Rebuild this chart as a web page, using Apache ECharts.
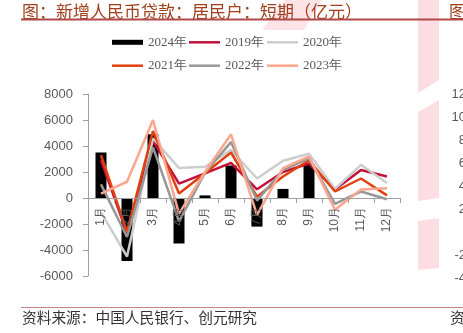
<!DOCTYPE html>
<html>
<head>
<meta charset="utf-8">
<style>
  html, body { margin: 0; padding: 0; background: #fff; }
  #chart { width: 463px; height: 333px; }
</style>
<script src="https://cdn.jsdelivr.net/npm/echarts@6/dist/echarts.min.js"></script>
</head>
<body>
<div id="chart"></div>
<script>
// ---- data ----
const months = ['1月','2月','3月','4月','5月','6月','7月','8月','9月','10月','11月','12月'];
const s2024 = [3500, -4850, 4900, -3500, 200, 2500, -2200, 700, 2600, null, null, null];
const s2019 = [2900, -2700, 4400, 1100, 1900, 2700, 670, 2000, 2650, 650, 2150, 1650];
const s2020 = [-1100, -4500, 4600, 2300, 2400, 3700, 1500, 2870, 3400, 700, 2550, 1150];
const s2021 = [3300, -2600, 5150, 350, 1900, 3500, 100, 1650, 2900, 500, 1500, 200];
const s2022 = [1050, -3000, 3900, -1800, 1950, 4300, -200, 2150, 3050, -450, 500, -100];
const s2023 = [330, 1250, 6000, -1200, 2000, 4900, -1300, 2300, 3200, -900, 650, 750];
const yTicks = { min: -6000, max: 8000, step: 2000 };
const neighbourTicks = [12, 10, 8, 6, 4, 2, -2, -4];

const titleText = '图：新增人民币贷款：居民户：短期（亿元）';
const sourceText = '资料来源：中国人民银行、创元研究';

// ---- styles ----
const CJK = '"Noto Sans CJK SC", sans-serif';
const SANS = '"Liberation Sans", Arial, sans-serif';
const SERIF = '"Liberation Serif", "Times New Roman", serif';
const labelColor = '#595959';
const axisColor = '#a0a0a0';

const GRID = { left: 88, right: 63, top: 94, bottom: 57 };
const plotH = 333 - GRID.top - GRID.bottom;
// distance from the bottom of the plot up to the zero line
const zeroOffset = plotH * (0 - yTicks.min) / (yTicks.max - yTicks.min);

const lineDefs = [
  { name: '2019年', data: s2019, color: '#C4103A' },
  { name: '2020年', data: s2020, color: '#CDCDCD' },
  { name: '2021年', data: s2021, color: '#E2410F' },
  { name: '2022年', data: s2022, color: '#979797' },
  { name: '2023年', data: s2023, color: '#FBA68E' }
];
const colorOf = { '2024年': '#000000' };
lineDefs.forEach(d => colorOf[d.name] = d.color);

const legendNames = ['2024年', '2019年', '2020年', '2021年', '2022年', '2023年'];
const legendCols = [112, 189, 267];
const legendRows = [42.3, 65.7];

const legends = legendNames.map((n, i) => {
  const isBar = n === '2024年';
  return {
    data: [{ name: n, icon: 'rect', itemStyle: { color: colorOf[n] } }],
    left: legendCols[i % 3],
    top: legendRows[Math.floor(i / 3)] - 7,
    orient: 'horizontal',
    padding: 0,
    itemGap: 0,
    itemWidth: 31,
    itemHeight: isBar ? 5 : 2.5,
    selectedMode: false,
    textStyle: { fontFamily: SERIF, fontSize: 13, color: labelColor, lineHeight: 14 }
  };
});

const series = [{
  name: '2024年',
  type: 'bar',
  data: s2024,
  barWidth: 11,
  itemStyle: { color: '#000000' },
  z: 2
}].concat(lineDefs.map((d, i) => ({
  name: d.name,
  type: 'line',
  data: d.data,
  symbol: 'none',
  smooth: false,
  lineStyle: { width: 2.5, color: d.color },
  itemStyle: { color: d.color },
  z: 3 + i
})));

const graphics = [
  // faint watermark shapes
  { type: 'polygon', z: -10, shape: { points: [[262,30],[285,0],[322,0],[304,30]] }, style: { fill: '#FDE3E6' }, silent: true },
  { type: 'polygon', z: -10, shape: { points: [[418,0],[439,0],[439,80],[418,93]] }, style: { fill: '#FDDDE1' }, silent: true },
  { type: 'polygon', z: -10, shape: { points: [[418,112],[439,100],[439,198],[418,201]] }, style: { fill: '#FDDDE1' }, silent: true },
  { type: 'polygon', z: -10, shape: { points: [[418,221],[439,218],[439,268],[418,270]] }, style: { fill: '#FDDDE1' }, silent: true },
  // title
  { type: 'text', left: 22, top: 3, z: 10, style: { text: titleText, font: '17px ' + CJK, fill: '#A0401E' } },
  { type: 'text', left: 449, top: 3, z: 10, style: { text: '图', font: '17px ' + CJK, fill: '#A0401E' } },
  { type: 'line', z: 10, shape: { x1: 21, y1: 19.5, x2: 463, y2: 19.5 }, style: { stroke: '#B04848', lineWidth: 2 } },
  // source
  { type: 'line', z: 10, shape: { x1: 21, y1: 307.5, x2: 463, y2: 307.5 }, style: { stroke: '#C88080', lineWidth: 1 } },
  { type: 'text', left: 22, top: 310, z: 10, style: { text: sourceText, font: '14.7px ' + CJK, fill: '#333333' } },
  { type: 'text', left: 450, top: 310, z: 10, style: { text: '资', font: '14.7px ' + CJK, fill: '#333333' } }
].concat(neighbourTicks.map(v => ({
  type: 'text', z: 10,
  x: 466, y: 94 + (12 - v) / 2 * 23,
  style: { text: String(v), font: '13px ' + SANS, fill: labelColor, align: 'right', verticalAlign: 'middle' }
})));

const chart = echarts.init(document.getElementById('chart'), null, { renderer: 'canvas' });
chart.setOption({
  animation: false,
  backgroundColor: '#ffffff',
  legend: legends,
  grid: { left: GRID.left, right: GRID.right, top: GRID.top, bottom: GRID.bottom, containLabel: false },
  xAxis: {
    type: 'category',
    data: months,
    boundaryGap: true,
    position: 'bottom',
    offset: -zeroOffset,
    z: 10,
    axisLine: { show: true, onZero: false, lineStyle: { color: axisColor, width: 1 } },
    axisTick: { show: true, length: 5, inside: false, lineStyle: { color: axisColor } },
    axisLabel: { rotate: 90, interval: 0, margin: 9, fontSize: 12, fontFamily: SANS, color: labelColor },
    splitLine: { show: false }
  },
  yAxis: {
    type: 'value',
    min: yTicks.min,
    max: yTicks.max,
    interval: yTicks.step,
    axisLine: { show: true, lineStyle: { color: axisColor, width: 1 } },
    axisTick: { show: true, length: 5, inside: false, lineStyle: { color: axisColor } },
    axisLabel: { margin: 15, fontSize: 13, fontFamily: SANS, color: labelColor, formatter: v => String(v) },
    splitLine: { show: false }
  },
  series: series,
  graphic: graphics
});
</script>
</body>
</html>
